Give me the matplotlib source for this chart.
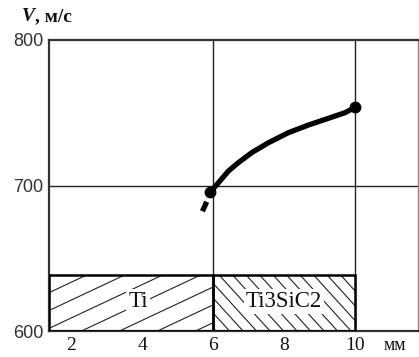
import matplotlib
matplotlib.use("Agg")
import numpy as np
import matplotlib.pyplot as plt
from matplotlib.patches import Rectangle

# ---- data ----
curve_x = [5.92, 6.15, 6.43, 6.71, 7.09, 7.56, 8.12, 8.69, 9.25, 9.72, 10.0]
curve_y = [695.4, 701.9, 709.9, 715.7, 722.6, 729.4, 736.3, 741.6, 746.2, 750.1, 753.8]
dash_x = [5.70, 5.82]
dash_y = [682.3, 688.8]
end_x = [5.92, 10.0]
end_y = [695.4, 753.8]

layer_names = ["Ti", "Ti3SiC2"]
layer_start = [1.38, 6.0]
layer_end = [6.0, 10.0]
layer_top = 638.6

x_ticks = [2, 4, 6, 8, 10]
y_ticks = [600, 700, 800]
grid_x = [6, 10]
grid_y = [700]

xlim = (1.38, 11.77)
ylim = (600, 800)

W, H = 419, 357
fig = plt.figure(figsize=(W / 100, H / 100), dpi=100)
ax = fig.add_axes([49 / W, (H - 331) / H, (418 - 49) / W, (331 - 40) / H])
ax.set_xlim(*xlim)
ax.set_ylim(*ylim)

serif = ["Liberation Serif", "DejaVu Serif"]
sans = ["Liberation Sans", "DejaVu Sans"]

for xv in grid_x:
    ax.axvline(xv, color="#222222", lw=1.0, zorder=1)
for yv in grid_y:
    ax.axhline(yv, color="#222222", lw=1.0, zorder=1)


def hatch_lines(rect, slope, spacing_x):
    """Draw parallel lines (display-space slope, horizontal spacing in px) clipped to rect."""
    fig.canvas.draw()
    bb = rect.get_window_extent()
    x0, x1, y0, y1 = bb.x0, bb.x1, bb.y0, bb.y1
    hgt = y1 - y0
    span = abs(hgt / slope)
    starts = np.arange(x0 - span - spacing_x, x1 + span + spacing_x, spacing_x)
    inv = ax.transData.inverted()
    for s in starts:
        p = np.array([[s, y0], [s + hgt / slope, y1]])
        d = inv.transform(p)
        ln, = ax.plot(d[:, 0], d[:, 1], color="#222222", lw=0.8, zorder=2.5)
        ln.set_clip_path(rect)


hatch_specs = [(0.47, 38.0), (-1.1, 13.5)]
rects = []
for name, s, e, (slope, sp) in zip(layer_names, layer_start, layer_end, hatch_specs):
    r = Rectangle((s, ylim[0]), e - s, layer_top - ylim[0], facecolor="white",
                  edgecolor="none", zorder=2)
    ax.add_patch(r)
    hatch_lines(r, slope, sp)
    ax.add_patch(Rectangle((s, ylim[0]), e - s, layer_top - ylim[0], facecolor="none",
                           edgecolor="black", lw=1.8, zorder=3.5))
    ax.text((s + e) / 2 + (0.2 if name == "Ti" else 0.0), (ylim[0] + layer_top) / 2 + 1,
            name, ha="center", va="center", fontsize=16.5, family=serif,
            color="#111111", zorder=3,
            bbox=dict(facecolor="white", edgecolor="none", pad=1.5))

ax.plot(curve_x, curve_y, color="black", lw=3.8, solid_capstyle="round", zorder=4)
ax.plot(dash_x, dash_y, color="black", lw=3.8, solid_capstyle="butt", zorder=4)
ax.plot(end_x, end_y, "o", color="black", ms=7.5, zorder=5)

for sp in ax.spines.values():
    sp.set_color("#333333")
    sp.set_linewidth(1.6)
ax.spines["right"].set_color("#888888")
ax.spines["right"].set_linewidth(1.0)

ax.set_xticks(x_ticks)
ax.set_xticklabels([str(t) for t in x_ticks], family=serif, fontsize=14, color="#111111")
ax.set_yticks(y_ticks)
ax.set_yticklabels([str(t) for t in y_ticks], family=sans, fontsize=13, color="#333333")
ax.tick_params(axis="both", length=0)
ax.tick_params(axis="x", pad=4)
ax.tick_params(axis="y", pad=4)

fig.text(395 / W, 1 - 346 / H, "мм", ha="center", va="center", fontsize=13,
         family=serif, color="#111111")

tv = fig.text(22 / W, 1 - 21 / H, "V", ha="left", va="baseline", fontsize=14,
              family=serif, style="italic", weight="bold", color="#111111")
ax.annotate(", м/с", xy=(1, 0), xycoords=tv, ha="left", va="bottom",
            fontsize=14, family=serif, weight="bold", color="#111111",
            annotation_clip=False)

fig.savefig("out.png", dpi=100)
